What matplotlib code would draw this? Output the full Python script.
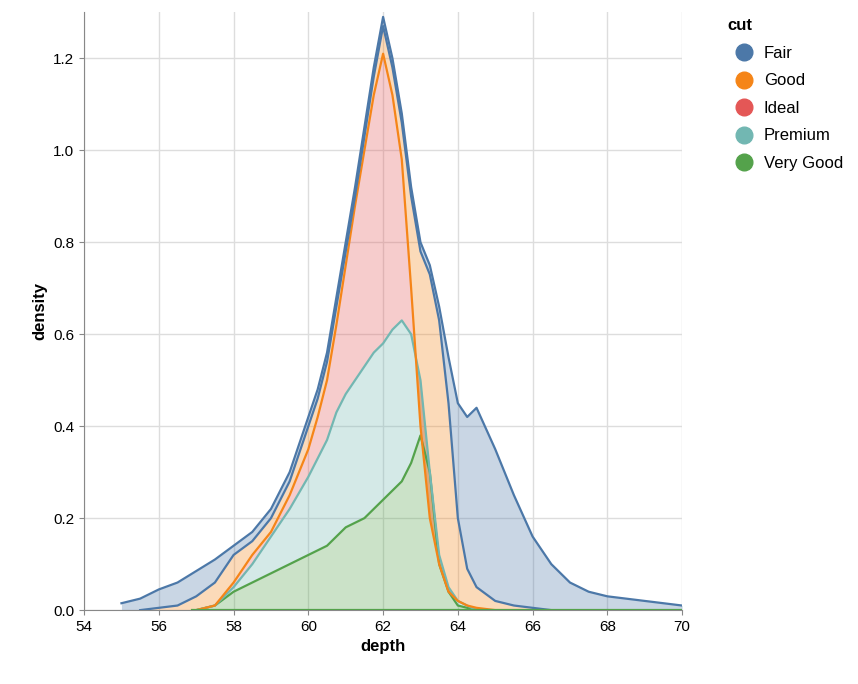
import numpy as np
import matplotlib.pyplot as plt
from matplotlib.lines import Line2D

# stacked density tops (cumulative, bottom -> top)
depth = np.concatenate([np.arange(55, 59.51, 0.5), np.arange(60, 64.51, 0.25), np.arange(65, 70.01, 0.5)])

very_good_top = [0, 0, 0, 0, 0, 0.01, 0.04, 0.06, 0.08, 0.10,
                 0.12, 0.13, 0.14, 0.16, 0.18, 0.19, 0.20, 0.22, 0.24, 0.26, 0.28, 0.32, 0.38, 0.30,
                 0.10, 0.04, 0.01, 0.005, 0,
                 0, 0, 0, 0, 0, 0, 0, 0, 0, 0, 0]
premium_top = [0, 0, 0, 0, 0, 0.01, 0.05, 0.10, 0.16, 0.22,
               0.29, 0.33, 0.37, 0.43, 0.47, 0.50, 0.53, 0.56, 0.58, 0.61, 0.63, 0.60, 0.50, 0.30,
               0.12, 0.05, 0.02, 0.01, 0,
               0, 0, 0, 0, 0, 0, 0, 0, 0, 0, 0]
ideal_top = [0, 0, 0, 0, 0, 0.01, 0.06, 0.12, 0.17, 0.25,
             0.35, 0.42, 0.50, 0.62, 0.75, 0.88, 1.00, 1.12, 1.21, 1.12, 0.98, 0.70, 0.40, 0.20,
             0.10, 0.04, 0.02, 0.01, 0.005,
             0, 0, 0, 0, 0, 0, 0, 0, 0, 0, 0]
good_top = [0, 0, 0.005, 0.01, 0.03, 0.06, 0.12, 0.15, 0.20, 0.28,
            0.40, 0.46, 0.54, 0.66, 0.78, 0.90, 1.03, 1.16, 1.27, 1.18, 1.06, 0.90, 0.78, 0.73,
            0.63, 0.45, 0.20, 0.09, 0.05,
            0.02, 0.01, 0.005, 0, 0, 0, 0, 0, 0, 0, 0]
fair_top = [0.015, 0.025, 0.045, 0.06, 0.085, 0.11, 0.14, 0.17, 0.22, 0.30,
            0.42, 0.48, 0.56, 0.68, 0.80, 0.92, 1.05, 1.18, 1.29, 1.20, 1.08, 0.92, 0.80, 0.75,
            0.66, 0.55, 0.45, 0.42, 0.44,
            0.35, 0.25, 0.16, 0.10, 0.06, 0.04, 0.03, 0.025, 0.02, 0.015, 0.01]

cuts = ['Fair', 'Good', 'Ideal', 'Premium', 'Very Good']
colors = {'Fair': '#4c78a8', 'Good': '#f58518', 'Ideal': '#e45756',
          'Premium': '#72b7b2', 'Very Good': '#54a24b'}

layers = [('Very Good', very_good_top, '#54a24b'),
          ('Premium', premium_top, '#72b7b2'),
          ('Ideal', ideal_top, '#f58518'),
          ('Good', good_top, '#4c78a8'),
          ('Fair', fair_top, '#4c78a8')]

plt.rcParams['font.family'] = ['Liberation Sans', 'DejaVu Sans']
fig = plt.figure(figsize=(8.58, 6.84), dpi=100)
ax = fig.add_axes([0.098, 0.108, 0.697, 0.874])

lower = np.zeros(len(depth))
for name, top, line_col in layers:
    top = np.array(top)
    mask = top > 0
    mask = mask | np.roll(mask, 1) | np.roll(mask, -1)
    ax.fill_between(depth, lower, top, color=colors[name], alpha=0.3, lw=0, zorder=2)
    ax.plot(depth[mask], top[mask], color=line_col, lw=1.6, zorder=3,
            solid_joinstyle='round')
    lower = top
ax.axhline(0, color='#54a24b', lw=1.6, xmin=0.18, xmax=1, zorder=3)

ax.set_xlim(54, 70)
ax.set_ylim(0, 1.3)
ax.set_xticks(range(54, 71, 2))
ax.set_yticks(np.arange(0, 1.21, 0.2))
ax.set_yticklabels([f'{v:.1f}' for v in np.arange(0, 1.21, 0.2)])
ax.grid(True, color='#dddddd', lw=1, zorder=0)
ax.set_axisbelow(True)
for s in ['top', 'right']:
    ax.spines[s].set_visible(False)
for s in ['left', 'bottom']:
    ax.spines[s].set_color('#888888')
ax.tick_params(colors='#888888', labelcolor='black', labelsize=11)
ax.set_xlabel('depth', fontsize=12, fontweight='bold')
ax.set_ylabel('density', fontsize=12, fontweight='bold')

handles = [Line2D([], [], marker='o', ls='', markersize=12, color=colors[c]) for c in cuts]
leg = fig.legend(handles, cuts, title='cut', loc='upper left', bbox_to_anchor=(0.83, 0.995),
                 frameon=False, fontsize=12, handletextpad=0.2, labelspacing=0.75)
leg.get_title().set_fontweight('bold')
leg.get_title().set_fontsize(12)
leg._legend_box.align = 'left'

fig.savefig('out.png')
